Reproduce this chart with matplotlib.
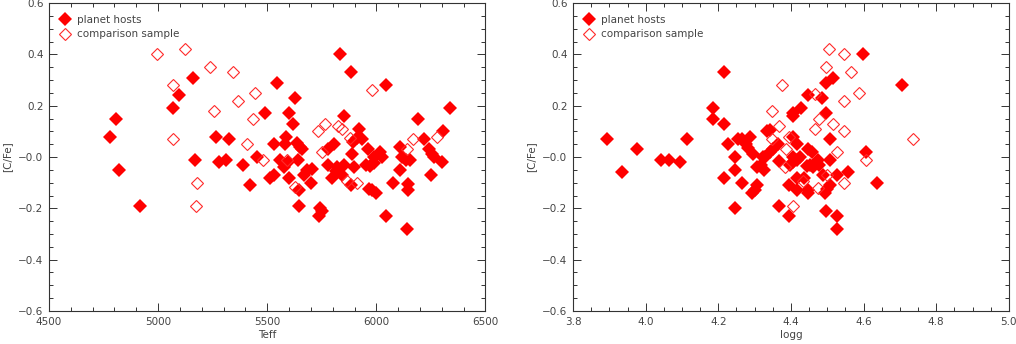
import numpy as np
import matplotlib
matplotlib.use('Agg')
import matplotlib.pyplot as plt
from matplotlib.ticker import MultipleLocator, FuncFormatter

# planet hosts: Teff, [C/Fe]
host_teff = [4780, 4805, 4820, 4915, 5070, 5095, 5160, 5168, 5265, 5280,
             5310, 5325, 5390, 5422, 5453, 5492, 5515, 5529, 5531, 5546,
             5560, 5575, 5583, 5587, 5593, 5601, 5601, 5616, 5627, 5637,
             5648, 5660, 5641, 5644, 5645, 5667, 5682, 5705, 5699, 5736,
             5743, 5752, 5778, 5804, 5780, 5797, 5815, 5820, 5835, 5850,
             5845, 5853, 5884, 5888, 5893, 5911, 5919, 5934, 5884, 5899,
             5954, 5970, 5990, 5960, 5988, 6016, 6026, 5965, 5980, 6000,
             6046, 6046, 6076, 6107, 6110, 6118, 6138, 6156, 6145, 6147,
             6139, 6191, 6217, 6240, 6255, 6263, 6251, 6301, 6306, 6339]
host_cfe_t = [0.08, 0.15, -0.05, -0.19, 0.19, 0.24, 0.31, -0.01, 0.08, -0.02,
              -0.01, 0.07, -0.03, -0.11, 0.00, 0.17, -0.08, -0.07, 0.05, 0.29,
              -0.01, -0.04, 0.05, 0.08, -0.02, 0.17, -0.08, 0.13, 0.23, 0.055,
              0.04, 0.03, -0.01, -0.19, -0.13, -0.07, -0.05, -0.045, -0.10, -0.23,
              -0.20, -0.21, 0.03, 0.05, -0.03, -0.08, -0.055, -0.04, 0.40, -0.03,
              -0.07, 0.16, 0.33, 0.01, 0.06, 0.075, 0.11, 0.07, -0.11, -0.04,
              -0.03, -0.035, -0.025, 0.03, 0.00, 0.02, 0.00, -0.125, -0.13, -0.14,
              0.28, -0.23, -0.10, 0.04, -0.05, 0.00, -0.01, -0.013, -0.105, -0.13,
              -0.28, 0.15, 0.07, 0.03, 0.01, 0.00, -0.07, -0.02, 0.10, 0.19]

# comparison sample: Teff, [C/Fe]
comp_teff = [4997, 5124, 5067, 5070, 5177, 5174, 5239, 5257, 5341, 5367,
             5443, 5433, 5408, 5480, 5980, 5765, 5733, 5824, 5845, 5880,
             5749, 5592, 5628, 5865, 5911, 6167, 6141, 6279]
comp_cfe_t = [0.40, 0.42, 0.28, 0.07, -0.10, -0.19, 0.35, 0.18, 0.33, 0.22,
              0.25, 0.15, 0.05, -0.01, 0.26, 0.13, 0.10, 0.12, 0.11, 0.075,
              0.02, -0.01, -0.115, -0.095, -0.10, 0.07, 0.03, 0.08]

# planet hosts: logg, [C/Fe]
host_logg = [3.894, 3.934, 3.975, 4.043, 4.065, 4.095, 4.115, 4.216, 4.185, 4.185,
             4.216, 4.226, 4.216, 4.245, 4.245, 4.245, 4.255, 4.266, 4.286, 4.276,
             4.281, 4.295, 4.265, 4.306, 4.301, 4.294, 4.306, 4.317, 4.326, 4.322,
             4.333, 4.342, 4.342, 4.448, 4.486, 4.427, 4.406, 4.406, 4.496, 4.406,
             4.417, 4.507, 4.365, 4.351, 4.448, 4.457, 4.606, 4.328, 4.368, 4.406,
             4.416, 4.425, 4.406, 4.397, 4.443, 4.452, 4.461, 4.475, 4.478, 4.507,
             4.487, 4.528, 4.558, 4.416, 4.435, 4.395, 4.417, 4.448, 4.448, 4.498,
             4.507, 4.494, 4.366, 4.395, 4.496, 4.528, 4.528, 4.597, 4.707, 4.517,
             4.496, 4.638]
host_cfe_g = [0.07, -0.06, 0.03, -0.01, -0.01, -0.02, 0.07, 0.33, 0.19, 0.15,
              0.13, 0.05, -0.08, 0.00, -0.05, -0.20, 0.07, 0.07, 0.08, 0.05,
              0.036, 0.01, -0.10, -0.11, -0.13, -0.14, -0.04, -0.03, -0.05, 0.00,
              0.10, 0.106, 0.02, 0.24, 0.23, 0.19, 0.17, 0.16, 0.17, 0.08,
              0.05, 0.07, 0.05, 0.03, 0.03, 0.02, 0.02, 0.00, -0.015, 0.00,
              -0.01, 0.00, -0.02, -0.03, -0.035, -0.03, -0.04, -0.01, -0.03, -0.01,
              -0.07, -0.07, -0.06, -0.08, -0.08, -0.11, -0.13, -0.13, -0.14, -0.125,
              -0.11, -0.14, -0.19, -0.23, -0.21, -0.23, -0.28, 0.40, 0.28, 0.31,
              0.29, -0.10]

# comparison sample: logg, [C/Fe]
comp_logg = [4.466, 4.547, 4.588, 4.347, 4.477, 4.517, 4.466, 4.547, 4.367, 4.347,
             4.395, 4.386, 4.526, 4.606, 4.383, 4.432, 4.475, 4.547, 4.498, 4.406,
             4.506, 4.547, 4.496, 4.566, 4.376, 4.737]
comp_cfe_g = [0.245, 0.22, 0.25, 0.18, 0.15, 0.13, 0.11, 0.10, 0.12, 0.07,
              0.08, 0.03, 0.02, -0.01, -0.04, -0.095, -0.12, -0.10, -0.07, -0.19,
              0.42, 0.40, 0.35, 0.33, 0.28, 0.07]

AXIS_COLOR = '#333333'
TEXT_COLOR = '#444444'

plt.rcParams['font.family'] = ['DejaVu Sans']


def ylab(v, pos):
    s = '{0:.1f}'.format(abs(v))
    return s if v > 0.001 else '\u2212' + s


def style_axes(ax, xmaj, xmin):
    ax.set_ylim(-0.6, 0.6)
    ax.xaxis.set_major_locator(MultipleLocator(xmaj))
    ax.xaxis.set_minor_locator(MultipleLocator(xmin))
    ax.yaxis.set_major_locator(MultipleLocator(0.2))
    ax.yaxis.set_minor_locator(MultipleLocator(0.05))
    ax.yaxis.set_major_formatter(FuncFormatter(ylab))
    ax.tick_params(which='both', direction='in', top=True, right=True,
                   color=AXIS_COLOR, labelcolor=TEXT_COLOR, labelsize=7.5, width=0.7)
    ax.tick_params(which='major', length=5.5, pad=4)
    ax.tick_params(which='minor', length=3)
    for sp in ax.spines.values():
        sp.set_color(AXIS_COLOR)
        sp.set_linewidth(0.8)
    ax.set_ylabel('[C/Fe]', color=TEXT_COLOR, fontsize=7.5, labelpad=4)


def draw(ax, hx, hy, cx, cy):
    ax.plot(hx, hy, linestyle='none', marker='D', markersize=7,
            color='red', markeredgewidth=0, label='planet hosts')
    ax.plot(cx, cy, linestyle='none', marker='D', markersize=6,
            markerfacecolor='none', markeredgecolor='#ff2a2a',
            markeredgewidth=0.8, label='comparison sample')
    leg = ax.legend(loc='upper left', frameon=False, fontsize=7.5,
                    handlelength=0.8, handletextpad=0.8, labelspacing=0.45,
                    borderaxespad=0.7, numpoints=1)
    for t in leg.get_texts():
        t.set_color(TEXT_COLOR)


fig = plt.figure(figsize=(10.16, 3.44), dpi=100)

ax1 = fig.add_axes([0.0482, 0.096, 0.4296, 0.895])
draw(ax1, host_teff, host_cfe_t, comp_teff, comp_cfe_t)
ax1.set_xlim(4500, 6500)
style_axes(ax1, 500, 100)
ax1.set_xlabel('Teff', color=TEXT_COLOR, fontsize=7.5, labelpad=2.5)

ax2 = fig.add_axes([0.564, 0.096, 0.429, 0.895])
draw(ax2, host_logg, host_cfe_g, comp_logg, comp_cfe_g)
ax2.set_xlim(3.8, 5.0)
style_axes(ax2, 0.2, 0.05)
ax2.xaxis.set_major_formatter(FuncFormatter(lambda v, p: '{0:.1f}'.format(v)))
ax2.set_xlabel('logg', color=TEXT_COLOR, fontsize=7.5, labelpad=2.5)

fig.savefig('out.png', dpi=100)
